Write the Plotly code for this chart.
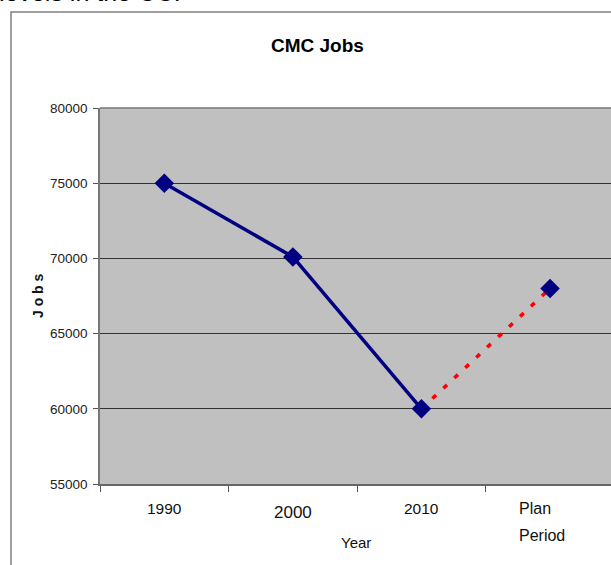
import plotly.graph_objects as go

# Job counts by period
periods = ["1990", "2000", "2010", "Plan Period"]
jobs = [75000, 70100, 60000, 68000]
y_ticks = [55000, 60000, 65000, 70000, 75000, 80000]
y_tick_labels = [str(v) for v in y_ticks]

W, H = 611, 565
L, T, B = 100, 108, 81
pw, ph = W - L, H - T - B

def px_x(x):
    return (x - L) / pw

def px_y(y):
    return (H - B - y) / ph

navy = "#000080"
font_family = "Liberation Sans, Arial, sans-serif"

fig = go.Figure()

# projected segment (2010 -> plan period)
fig.add_trace(go.Scatter(
    x=periods[2:], y=jobs[2:], mode="lines",
    line=dict(color="#FF0000", width=3.5, dash="5px,10px"),
    hoverinfo="skip", showlegend=False,
))
# historical segment
fig.add_trace(go.Scatter(
    x=periods[:3], y=jobs[:3], mode="lines",
    line=dict(color=navy, width=3.5),
    showlegend=False,
))
# data markers
fig.add_trace(go.Scatter(
    x=periods, y=jobs, mode="markers",
    marker=dict(symbol="diamond", size=15, color=navy, line=dict(width=0)),
    showlegend=False,
))

# category labels under the axis, one line per word (x given as category index)
annotations = []
for i, p in enumerate(periods):
    words = p.split(" ")
    if len(words) == 1:
        size = 17 if p == "2000" else 15.5
        yshift = -4 if p == "2000" else 0
        annotations.append(dict(
            text=p, x=i, xref="x", yref="paper", y=px_y(508), yshift=yshift,
            xanchor="center", yanchor="middle", showarrow=False,
            font=dict(size=size, color="#111")))
    else:
        for j, w in enumerate(words):
            annotations.append(dict(
                text=w, x=i, xref="x", yref="paper", y=px_y(508 + 27 * j),
                xanchor="left", yanchor="middle", xshift=-33, showarrow=False,
                font=dict(size=16, color="#111")))

annotations += [
    dict(text="<b>CMC Jobs</b>", xref="paper", yref="paper",
         x=px_x(317), y=px_y(46), xanchor="center", yanchor="middle",
         showarrow=False, font=dict(size=19, color="#000")),
    dict(text="Year", xref="paper", yref="paper",
         x=px_x(356), y=px_y(542), xanchor="center", yanchor="middle",
         showarrow=False, font=dict(size=15, color="#111")),
    dict(text="J o b s", xref="paper", yref="paper", textangle=-90,
         x=px_x(38), y=px_y(296), xanchor="center", yanchor="middle",
         showarrow=False, font=dict(size=14, color="#111", weight="bold")),
    dict(text="levels in the CCP", xref="paper", yref="paper",
         x=px_x(-3), y=px_y(-8), xanchor="left", yanchor="middle",
         showarrow=False, font=dict(size=25, color="#000")),
]

fig.update_layout(
    width=W, height=H,
    margin=dict(l=L, r=0, t=T, b=B),
    paper_bgcolor="white",
    plot_bgcolor="#C0C0C0",
    font=dict(family=font_family, color="#111"),
    xaxis=dict(
        type="category",
        categoryorder="array", categoryarray=periods,
        range=[-0.5, 3.474],
        showticklabels=False,
        tickson="boundaries",
        ticks="outside", ticklen=6, tickcolor="#555", tickwidth=1,
        showgrid=False, zeroline=False,
        showline=True, linecolor="#666", linewidth=1.5,
    ),
    yaxis=dict(
        range=[55000, 80000],
        tickmode="array", tickvals=y_ticks, ticktext=y_tick_labels,
        ticks="outside", ticklen=5, tickcolor="#555", tickwidth=1,
        ticklabelstandoff=3,
        showgrid=True, gridcolor="#333", gridwidth=1,
        zeroline=False,
        showline=True, linecolor="#777", linewidth=1.5,
        tickfont=dict(size=13.5, color="#222"),
    ),
    annotations=annotations,
    shapes=[
        # plot area top border
        dict(type="line", xref="paper", yref="paper", x0=0, x1=1, y0=1, y1=1,
             line=dict(color="#777", width=1.5)),
        # chart frame
        dict(type="rect", xref="paper", yref="paper",
             x0=px_x(11), x1=px_x(640), y0=px_y(600), y1=px_y(12),
             line=dict(color="#808080", width=1.5), fillcolor="rgba(0,0,0,0)",
             layer="below"),
    ],
)

fig.write_html("out.html")
